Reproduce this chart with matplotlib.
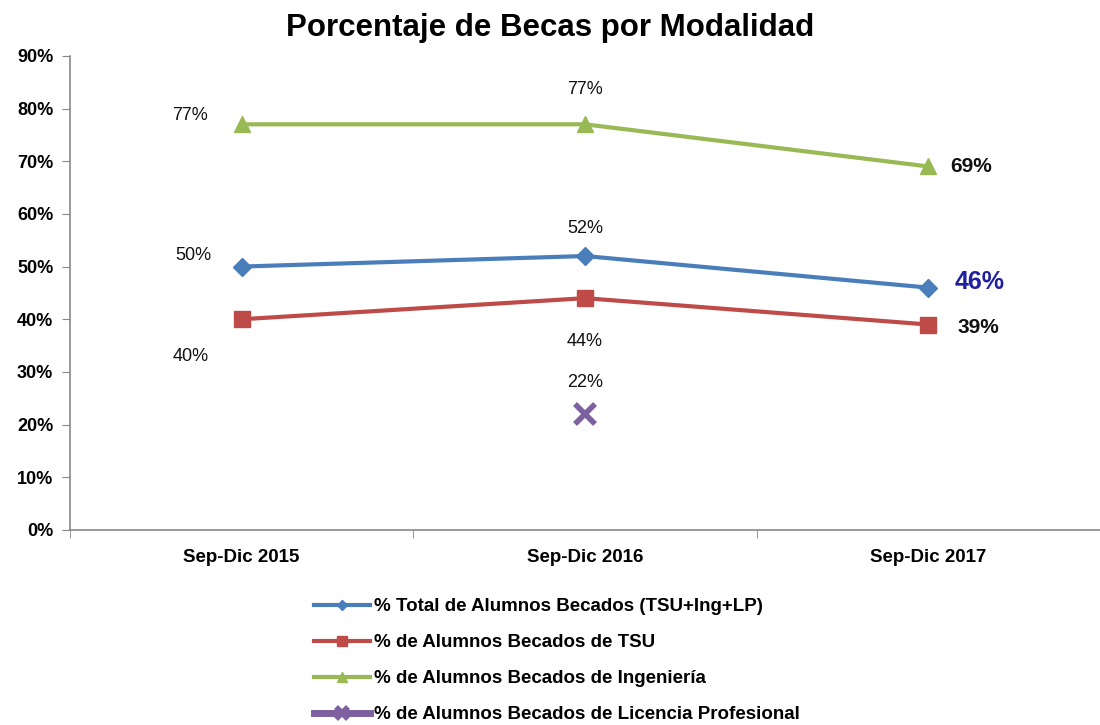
import matplotlib
matplotlib.use("Agg")
import matplotlib.pyplot as plt
from matplotlib.ticker import FuncFormatter

periodos = ["Sep-Dic 2015", "Sep-Dic 2016", "Sep-Dic 2017"]
total = [50, 52, 46]
tsu = [40, 44, 39]
ingenieria = [77, 77, 69]
lp_x = [1]
lp = [22]

plt.rcParams['font.family'] = ['Liberation Sans', 'DejaVu Sans']

fig = plt.figure(figsize=(11, 7.25), dpi=100)
ax = fig.add_axes([0.0636, 0.269, 0.9364, 0.654])

xs = list(range(len(periodos)))
ax.plot(xs, total, color='#4a7ebb', lw=3, marker='D', ms=9,
        label='% Total de Alumnos Becados (TSU+Ing+LP)')
ax.plot(xs, tsu, color='#be4b48', lw=3, marker='s', ms=12,
        label='% de Alumnos Becados de TSU')
ax.plot(xs, ingenieria, color='#98b954', lw=3, marker='^', ms=12,
        label='% de Alumnos Becados de Ingeniería')
ax.plot(lp_x, lp, color='#7d60a0', lw=5, marker='x', ms=14, mew=4,
        label='% de Alumnos Becados de Licencia Profesional')

ax.set_xlim(-0.5, 2.5)
ax.set_ylim(0, 90)
ax.set_yticks(range(0, 91, 10))
ax.yaxis.set_major_formatter(FuncFormatter(lambda v, p: f"{v:.0f}%"))
ax.set_xticks(xs)
ax.set_xticklabels(periodos, fontsize=13.5, fontweight='bold')
ax.set_xticks([-0.5, 0.5, 1.5, 2.5], minor=True)
ax.tick_params(axis='x', which='major', length=0, pad=14)
ax.tick_params(axis='x', which='minor', length=6, color='#888888')
ax.tick_params(axis='y', length=6, color='#888888', labelsize=13, pad=6)
for t in ax.get_yticklabels():
    t.set_fontweight('bold')
for s in ['top', 'right']:
    ax.spines[s].set_visible(False)
for s in ['left', 'bottom']:
    ax.spines[s].set_color('#888888')
    ax.spines[s].set_linewidth(1.2)

lab = dict(fontsize=13, color='#111111', ha='center', va='center')
# Sep-Dic 2015: to the left
ax.annotate(f"{ingenieria[0]}%", (0, ingenieria[0]), xytext=(-37, 6), textcoords='offset points', **lab)
ax.annotate(f"{total[0]}%", (0, total[0]), xytext=(-35, 8), textcoords='offset points', **lab)
ax.annotate(f"{tsu[0]}%", (0, tsu[0]), xytext=(-37, -27), textcoords='offset points', **lab)
# Sep-Dic 2016
ax.annotate(f"{ingenieria[1]}%", (1, ingenieria[1]), xytext=(0, 25), textcoords='offset points', **lab)
ax.annotate(f"{total[1]}%", (1, total[1]), xytext=(0, 20), textcoords='offset points', **lab)
ax.annotate(f"{tsu[1]}%", (1, tsu[1]), xytext=(0, -31), textcoords='offset points', **lab)
ax.annotate(f"{lp[0]}%", (lp_x[0], lp[0]), xytext=(0, 23), textcoords='offset points', **lab)
# Sep-Dic 2017: to the right, larger
ax.annotate(f"{ingenieria[2]}%", (2, ingenieria[2]), xytext=(16, 0), textcoords='offset points',
            fontsize=15, fontweight='bold', color='#111111', ha='left', va='center')
ax.annotate(f"{total[2]}%", (2, total[2]), xytext=(19, 4), textcoords='offset points',
            fontsize=18, fontweight='bold', color='#1f1fa0', ha='left', va='center')
ax.annotate(f"{tsu[2]}%", (2, tsu[2]), xytext=(21, -2), textcoords='offset points',
            fontsize=15, fontweight='bold', color='#111111', ha='left', va='center')

fig.text(0.5, 0.962, "Porcentaje de Becas por Modalidad", ha='center', va='center',
         fontsize=22.5, fontweight='bold')

leg = fig.legend(loc='upper left', bbox_to_anchor=(0.270, 0.198), frameon=False,
                 prop={'size': 13.5, 'weight': 'bold'}, labelspacing=1.0,
                 handlelength=3.0, handletextpad=0.2, markerscale=0.6)

fig.savefig("out.png", dpi=100)
